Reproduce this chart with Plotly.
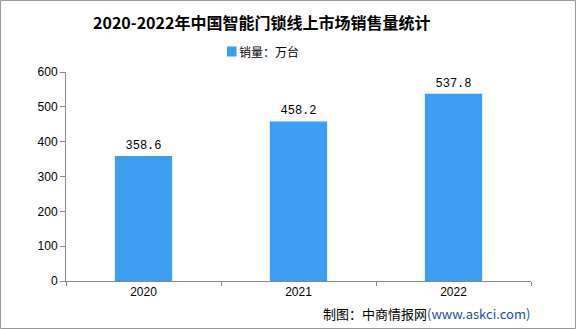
import plotly.graph_objects as go

years = ["2020", "2021", "2022"]
sales = [358.6, 458.2, 537.8]
series_name = "销量：万台"
title = "2020-2022年中国智能门锁线上市场销售量统计"

W, H = 576, 329
L, R, T, B = 66, 45, 72, 48
pw, ph = W - L - R, H - T - B
bar_color = "#3d9df0"

def px(x):
    return (x - L) / pw

def py(y):
    return (H - B - y) / ph

fig = go.Figure()
fig.add_trace(go.Bar(
    x=years, y=sales, name=series_name,
    marker=dict(color=bar_color, line=dict(width=0)),
    width=0.37,
    text=[f"{v:.1f}" for v in sales], textposition="outside",
    textfont=dict(family="Liberation Mono, monospace", size=12, color="#000"),
    cliponaxis=False, showlegend=False,
))

fig.update_layout(
    width=W, height=H,
    margin=dict(l=L, r=R, t=T, b=B),
    paper_bgcolor="white", plot_bgcolor="white",
    showlegend=False,
    xaxis=dict(type="category", range=[-0.5, 2.5], tickson="boundaries",
               ticks="outside", ticklen=4, tickcolor="#888", showline=True,
               linecolor="#888", linewidth=1, showgrid=False,
               tickfont=dict(family="Liberation Sans, Arial", size=12, color="#000")),
    yaxis=dict(range=[0, 600], dtick=100, ticks="outside", ticklen=5,
               tickcolor="#888", showline=True, linecolor="#888", linewidth=1,
               showgrid=False, zeroline=False,
               tickfont=dict(family="Liberation Sans, Arial", size=12, color="#000")),
    shapes=[
        dict(type="rect", xref="paper", yref="paper",
             x0=px(0.5), x1=px(575.5), y0=py(0.5), y1=py(328.5),
             line=dict(color="#999", width=1), fillcolor="rgba(0,0,0,0)"),
        dict(type="rect", xref="paper", yref="paper",
             x0=px(227), x1=px(236.5), y0=py(56.5), y1=py(46.5),
             line=dict(width=0), fillcolor=bar_color),
    ],
    annotations=[
        dict(text="<b>" + title + "</b>", xref="paper", yref="paper",
             x=px(261), y=py(22), xanchor="center", yanchor="middle", showarrow=False,
             font=dict(family="Noto Sans CJK SC", size=16, color="#000")),
        dict(text=series_name, xref="paper", yref="paper",
             x=px(237), y=py(52), xanchor="left", yanchor="middle", showarrow=False,
             font=dict(family="Noto Sans CJK SC", size=12, color="#000")),
        dict(text="制图：中商情报网<span style='color:#1f4ea0'>(www.askci.com)</span>",
             xref="paper", yref="paper", x=px(532), y=py(313),
             xanchor="right", yanchor="middle", showarrow=False,
             font=dict(family="Noto Sans CJK SC", size=13, color="#000")),
    ],
)

fig.write_html("out.html")
